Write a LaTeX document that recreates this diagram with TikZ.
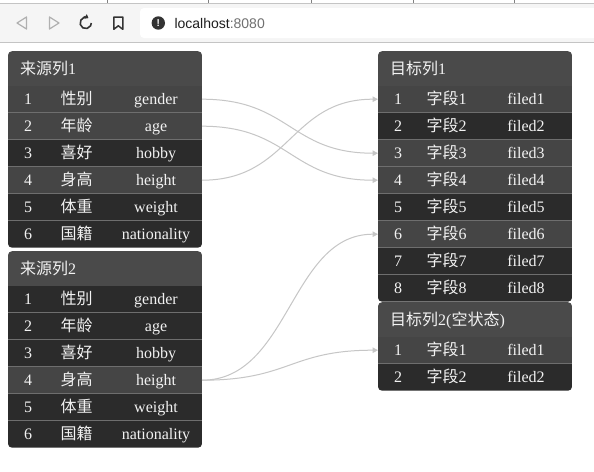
\documentclass[tikz,border=0pt]{standalone}
\usepackage{fontspec}
\setmainfont{Liberation Serif}
\newfontfamily\cjk{Noto Sans CJK SC}
\newfontfamily\uisans{Liberation Sans}
\usetikzlibrary{arrows.meta}

\definecolor{titlebg}{HTML}{4A4A4A}
\definecolor{rowhi}{HTML}{454545}
\definecolor{rowlo}{HTML}{2B2B2B}
\definecolor{sepc}{HTML}{6E6E6E}
\definecolor{txt}{HTML}{F2F2F2}
\definecolor{linkc}{HTML}{C6C6C6}
\definecolor{chromebg}{HTML}{F5F5F5}
\definecolor{chromeline}{HTML}{C4C4C4}
\definecolor{icondark}{HTML}{333333}
\definecolor{iconlight}{HTML}{B0B0B0}
\definecolor{urlgray}{HTML}{707070}
\definecolor{urldark}{HTML}{1E1E1E}

\tikzset{
  rowbox/.style={inner sep=0pt, outer sep=0pt, minimum width=194pt, minimum height=27pt, anchor=north west},
  titlebox/.style={inner sep=0pt, outer sep=0pt, minimum width=194pt, minimum height=34.5pt, anchor=north west, fill=titlebg},
  celltxt/.style={text=txt, font=\fontsize{16}{18}\selectfont, inner sep=0pt, anchor=base},
  titletxt/.style={text=txt, font=\fontsize{16}{18}\selectfont, inner sep=0pt, anchor=base west},
  sepline/.style={draw=sepc, line width=0.8pt},
  link/.style={draw=linkc, line width=1pt, -{Triangle[length=5.5pt,width=5.5pt]}},
}

\newcommand\frow[7]{%
  \node[rowbox,fill=#4] (#1) at (#2,{#3}) {};
  \node[celltxt] (#1-n) at ([xshift=20pt,yshift=-5.3pt]#1.west) {#5};
  \node[celltxt] (#1-c) at ([xshift=68.7pt,yshift=-5.3pt]#1.west) {#6};
  \node[celltxt] (#1-e) at ([xshift=148pt,yshift=-5.3pt]#1.west) {#7};
}
\newcommand\ptitle[4]{%
  \node[titlebox] (#1) at (#2,{#3}) {};
  \node[titletxt] (#1-t) at ([xshift=12pt,yshift=-5.8pt]#1.west) {#4};
}

\begin{document}
\begin{tikzpicture}[x=1pt,y=-1pt]
\useasboundingbox (0,0) rectangle (594,471);
\fill[white] (0,0) rectangle (594,471);

% ---------- browser chrome ----------
\fill[chromebg] (0,3.3) rectangle (594,42);
\draw[chromeline, line width=0.8pt] (0,3.3) -- (594,3.3);
\foreach \xx in {107,208,311,413,514} \draw[gray, line width=0.8pt] (\xx,0) -- (\xx,3.3);
\fill[white, rounded corners=4pt] (140,8) rectangle (600,38);
\draw[chromeline, line width=1pt] (0,42) -- (594,42);
% back / forward
\draw[iconlight, line width=1.2pt, line join=round] (26.5,17) -- (17,23) -- (26.5,29) -- cycle;
\draw[iconlight, line width=1.2pt, line join=round] (49.5,17) -- (59,23) -- (49.5,29) -- cycle;
% reload
\draw[icondark, line width=1.6pt, {Triangle[length=3.5pt,width=5pt]}-] (85.7,23) ++(-60:5.6) arc[start angle=-60, end angle=-360, radius=5.6];
% bookmark
\draw[icondark, line width=1.5pt, line join=round] (113.8,17) -- (122.8,17) -- (122.8,29.3) -- (118.3,25.8) -- (113.8,29.3) -- cycle;
% info icon
\fill[icondark] (158.3,23) circle (6.7);
\node[text=white, font=\uisans\bfseries\fontsize{10}{10}\selectfont, inner sep=0pt] (info) at (158.3,23) {!};
\node[anchor=base west, inner sep=0pt, font=\uisans\fontsize{14}{16}\selectfont] (url) at (174.3,28.3) {\textcolor{urldark}{localhost}\textcolor{urlgray}{:8080}};

% ---------- source panel 1 ----------
\begin{scope}
\clip[rounded corners=4pt] (8,51.2) rectangle ++(194,196.5);
\ptitle{s1}{8}{51.2}{{\cjk 来源列}1}
\foreach \i/\f/\cn/\en in {1/rowhi/性别/gender, 2/rowhi/年龄/age, 3/rowlo/喜好/hobby, 4/rowhi/身高/height, 5/rowlo/体重/weight, 6/rowlo/国籍/nationality}
  {\frow{s1r\i}{8}{85.7+27*(\i-1)}{\f}{\i}{{\cjk\cn}}{\en}}
\foreach \i in {1,...,5} \draw[sepline] (8,{85.7+27*\i}) -- ++(194,0);
\end{scope}

% ---------- source panel 2 ----------
\begin{scope}
\clip[rounded corners=4pt] (8,251.2) rectangle ++(194,196.5);
\ptitle{s2}{8}{251.2}{{\cjk 来源列}2}
\foreach \i/\f/\cn/\en in {1/rowlo/性别/gender, 2/rowlo/年龄/age, 3/rowlo/喜好/hobby, 4/rowhi/身高/height, 5/rowlo/体重/weight, 6/rowlo/国籍/nationality}
  {\frow{s2r\i}{8}{285.7+27*(\i-1)}{\f}{\i}{{\cjk\cn}}{\en}}
\foreach \i in {1,...,5} \draw[sepline] (8,{285.7+27*\i}) -- ++(194,0);
\end{scope}

% ---------- target panel 1 ----------
\begin{scope}
\clip[rounded corners=4pt] (378,51.2) rectangle ++(194,250.5);
\ptitle{t1}{378}{51.2}{{\cjk 目标列}1}
\foreach \i/\f in {1/rowhi, 2/rowlo, 3/rowhi, 4/rowhi, 5/rowlo, 6/rowhi, 7/rowlo, 8/rowlo}
  {\frow{t1r\i}{378}{85.7+27*(\i-1)}{\f}{\i}{{\cjk 字段}\i}{filed\i}}
\foreach \i in {1,...,7} \draw[sepline] (378,{85.7+27*\i}) -- ++(194,0);
\end{scope}

% ---------- target panel 2 ----------
\begin{scope}
\clip[rounded corners=4pt] (378,302.2) rectangle ++(194,88.5);
\ptitle{t2}{378}{302.2}{{\cjk 目标列}2({\cjk 空状态})}
\foreach \i/\f in {1/rowhi, 2/rowlo}
  {\frow{t2r\i}{378}{336.7+27*(\i-1)}{\f}{\i}{{\cjk 字段}\i}{filed\i}}
\draw[sepline] (378,363.7) -- ++(194,0);
\end{scope}

% ---------- connectors ----------
\draw[link] (s1r1.east) .. controls +(88,0) and +(-88,0) .. (t1r3.west);
\draw[link] (s1r2.east) .. controls +(88,0) and +(-88,0) .. (t1r4.west);
\draw[link] (s1r4.east) .. controls +(88,0) and +(-88,0) .. (t1r1.west);
\draw[link] (s2r4.east) .. controls +(88,0) and +(-88,0) .. (t1r6.west);
\draw[link] (s2r4.east) .. controls +(88,0) and +(-88,0) .. (t2r1.west);
\end{tikzpicture}
\end{document}
